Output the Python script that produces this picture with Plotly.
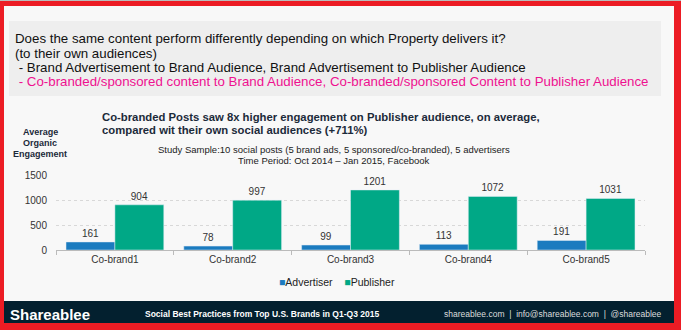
import plotly.graph_objects as go

categories = ["Co-brand1", "Co-brand2", "Co-brand3", "Co-brand4", "Co-brand5"]
advertiser = [161, 78, 99, 113, 191]
publisher = [904, 997, 1201, 1072, 1031]
y_ticks = [0, 500, 1000, 1500]
series_names = ["Advertiser", "Publisher"]
series_colors = ["#1b7bbf", "#00a886"]

W, H = 681, 330
L, R, T, B = 56, 645, 175, 250  # plot area pixel bounds


def px(x):
    return (x - L) / (R - L)


def py(y):
    return (B - y) / (B - T)


FONT = "Arial"
DARK = "#1c2a3a"

fig = go.Figure()
for name, vals, col in zip(series_names, [advertiser, publisher], series_colors):
    fig.add_trace(go.Bar(name=name, x=categories, y=vals, marker_color=col,
                         text=vals, textposition="outside",
                         textfont=dict(size=10, color="#333333", family=FONT), cliponaxis=False))

shapes = [
    dict(type="rect", xref="paper", yref="paper", x0=px(4), x1=px(674), y0=py(323), y1=py(6),
         fillcolor="#f8f8f8", line_width=0, layer="below"),
    dict(type="rect", xref="paper", yref="paper", x0=px(9), x1=px(661), y0=py(96), y1=py(21),
         fillcolor="#eeeeee", line_width=0, layer="below"),
    dict(type="rect", xref="paper", yref="paper", x0=px(4), x1=px(674), y0=py(323), y1=py(301),
         fillcolor="#03202f", line_width=0, layer="below"),
    dict(type="rect", xref="paper", yref="paper", x0=px(0), x1=px(681), y0=py(1), y1=py(0),
         fillcolor="#bbbbbb", line_width=0, layer="below"),
]

ann = []


def text(x, y, s, size, color, bold=False, xanchor="left", family=FONT):
    if bold:
        s = "<b>" + s + "</b>"
    ann.append(dict(x=px(x), y=py(y), xref="paper", yref="paper", text=s, showarrow=False,
                    xanchor=xanchor, yanchor="middle", font=dict(size=size, color=color, family=family)))


QS = 13.3
text(13, 38, "Does the same content perform differently depending on which Property delivers it?", QS, "#111111")
text(13, 53, "(to their own audiences)", QS, "#111111")
text(13, 67, " - Brand Advertisement to Brand Audience, Brand Advertisement to Publisher Audience", QS, "#111111")
text(13, 81, " - Co-branded/sponsored content to Brand Audience, Co-branded/sponsored Content to Publisher Audience", QS, "#ee1190")

text(100, 117, "Co-branded Posts saw 8x higher engagement on Publisher audience, on average,", 11.3, DARK, bold=True)
text(100, 130, "compared wit their own social audiences (+711%)", 11.3, DARK, bold=True)

text(334, 149, "Study Sample:10 social posts (5 brand ads, 5 sponsored/co-branded), 5 advertisers", 9.5, "#222222", xanchor="center")
text(334, 160, "Time Period: Oct 2014 \u2013 Jan 2015, Facebook", 9.5, "#222222", xanchor="center")

text(40, 132, "Average", 9, DARK, bold=True, xanchor="center")
text(40, 143, "Organic", 9, DARK, bold=True, xanchor="center")
text(40, 154, "Engagement", 9, DARK, bold=True, xanchor="center")

legend_html = "&nbsp;&nbsp;&nbsp;&nbsp;".join(
    f"<span style='color:{c}'>\u25a0</span>{n}" for n, c in zip(series_names, series_colors))
text(337, 282, legend_html, 10.5, "#222222", xanchor="center")

text(8, 314, "<b>Shareablee</b>", 15, "#ffffff")
text(143, 314, "Social Best Practices from Top U.S. Brands in Q1-Q3 2015", 8.5, "#ffffff", bold=True)
text(664, 314, "shareablee.com  |  info@shareablee.com  |  @shareablee", 8.5, "#dddddd", xanchor="right")

fig.update_layout(
    width=W, height=H,
    margin=dict(l=L, r=W - R, t=T, b=H - B),
    paper_bgcolor="#ec1c24",
    plot_bgcolor="rgba(0,0,0,0)",
    barmode="group",
    bargap=0.17,
    bargroupgap=0,
    font=dict(family=FONT, color="#333333"),
    shapes=shapes,
    annotations=ann,
    showlegend=False,
    xaxis=dict(showline=True, linecolor="#bbbbbb", linewidth=1, ticks="outside", tickson="boundaries",
               ticklen=4, tickcolor="#bbbbbb", tickfont=dict(size=10, color="#333333"), showgrid=False),
    yaxis=dict(range=[0, 1500], tickvals=y_ticks, showgrid=True, gridcolor="#d8d8d8", griddash="dot",
               zeroline=False, showline=False, tickfont=dict(size=10, color="#333333"), ticklabelstandoff=8),
)

fig.write_html("out.html")
